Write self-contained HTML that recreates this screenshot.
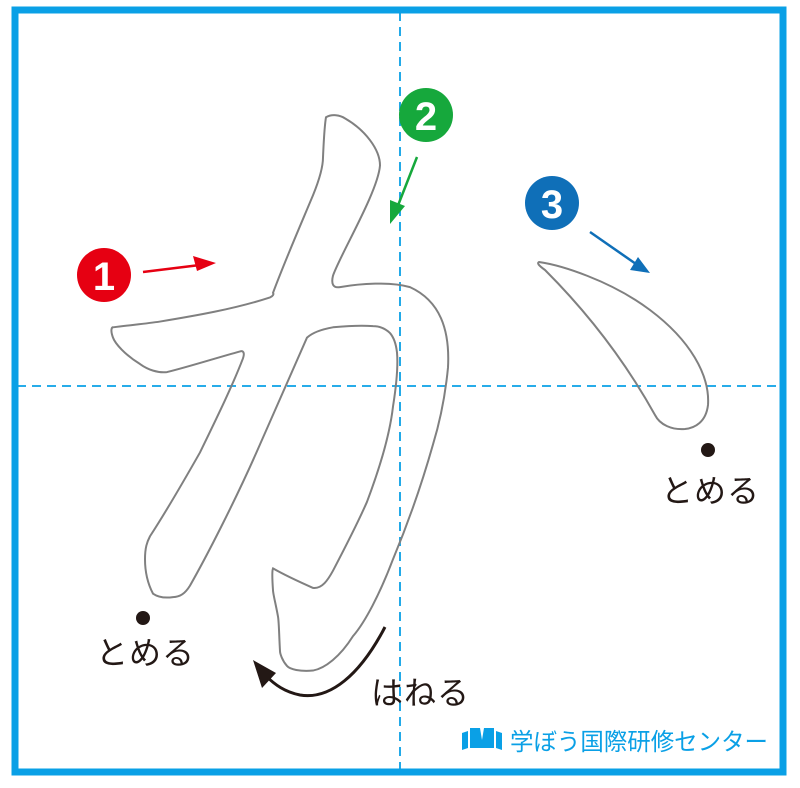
<!DOCTYPE html>
<html><head><meta charset="utf-8"><style>
body{margin:0;background:#fff;width:800px;height:788px;overflow:hidden}
svg{display:block}
text{font-family:"Liberation Sans","Noto Sans CJK JP",sans-serif}
</style></head><body>
<svg width="800" height="788" viewBox="0 0 800 788">
<rect x="0" y="0" width="800" height="788" fill="#fff"/>
<rect x="15" y="10" width="768" height="762" fill="none" stroke="#0aa0e6" stroke-width="7"/>
<line x1="400" y1="12" x2="400" y2="770" stroke="#0aa0e6" stroke-width="1.8" stroke-dasharray="9,6"/>
<line x1="17" y1="386" x2="781" y2="386" stroke="#0aa0e6" stroke-width="1.8" stroke-dasharray="9,6"/>
<path transform="matrix(1,0,0,1.148,0,-14.8)" vector-effect="non-scaling-stroke" d="M326,115 C332,112 340,113 345,116 C365,126 380,143 380,157 C378,180 340,235 333,253 C331,260 333,264 340,263 C360,260 390,258 410,263 C440,275 450,300 448,333 C445,360 440,380 433,400 C420,440 405,475 393,500 C380,530 365,555 353,567 C340,585 325,595 313,597 C300,598 290,596 287,593 C282,588 280,582 280,580 C279,565 279,555 278,550 C276,540 273,530 273,527 C272,515 272,510 273,508 C285,514 300,520 313,525 C322,526 328,518 333,510 C345,490 357,470 367,450 C380,420 390,390 393,367 C397,345 398,330 397,320 C396,312 393,306 390,303 C384,298 378,297 373,297 C360,296 345,297 333,298 C320,300 312,303 307,307 C290,340 275,370 260,400 C235,450 205,500 190,523 C185,530 180,533 173,533 C165,534 158,533 153,530 C147,520 145,510 145,500 C145,490 147,485 150,480 C165,460 185,430 200,407 C215,380 232,350 243,325 C245,320 243,318 240,319 C215,325 190,332 167,337 C158,338 148,335 140,330 C125,322 115,312 113,307 C110,300 112,298 113,298 C130,296 145,295 160,293 C195,288 235,282 270,272 C273,271 274,269 273,268 C285,240 300,210 313,183 C320,168 323,158 323,150 C324,130 325,120 326,115 Z" fill="none" stroke="#808080" stroke-width="2"/>
<path d="M539,262 C560,265 610,280 650,310 C690,340 710,375 708,405 C706,422 695,428 685,429 C672,430 660,425 655,415 C630,370 595,320 545,270 C538,265 537,263 539,262 Z" fill="none" stroke="#808080" stroke-width="2"/>
<circle cx="104" cy="275" r="27" fill="#e60012"/>
<text x="104" y="290" font-size="40" font-weight="bold" fill="#fff" text-anchor="middle">1</text>
<circle cx="426" cy="115" r="27" fill="#16a83c"/>
<text x="426" y="130" font-size="40" font-weight="bold" fill="#fff" text-anchor="middle">2</text>
<circle cx="552" cy="203" r="27" fill="#0f6fb8"/>
<text x="552" y="218" font-size="40" font-weight="bold" fill="#fff" text-anchor="middle">3</text>
<line x1="143" y1="272" x2="200" y2="265" stroke="#e60012" stroke-width="2.5"/>
<polygon points="216,263 193,256 197,271" fill="#e60012"/>
<line x1="417" y1="157" x2="397" y2="208" stroke="#16a83c" stroke-width="2.5"/>
<polygon points="390,224 390,200 405,206" fill="#16a83c"/>
<line x1="590" y1="232" x2="636" y2="264" stroke="#0f6fb8" stroke-width="2.5"/>
<polygon points="650,273 630,270 638,257" fill="#0f6fb8"/>
<path d="M385,627 C360,675 330,700 300,695 C285,692 275,685 265,675" fill="none" stroke="#231815" stroke-width="3"/>
<polygon points="253,660 262,688 276,673" fill="#231815"/>
<circle cx="143" cy="618" r="7" fill="#231815"/>
<circle cx="708" cy="450" r="7" fill="#231815"/>
<text x="145" y="664" font-size="32" fill="#231815" text-anchor="middle" textLength="98">とめる</text>
<text x="710" y="502" font-size="32" fill="#231815" text-anchor="middle" textLength="98">とめる</text>
<text x="420" y="704" font-size="32" fill="#231815" text-anchor="middle" textLength="98">はねる</text>
<g fill="#0aa0e6">
<path d="M462,733 L468,731 L468,748 L462,750 Z"/>
<path d="M470,728 L480,728 L482,740 L484,728 L494,728 L494,748 L470,748 Z"/>
<path d="M496,731 L502,733 L502,750 L496,748 Z"/>
</g>
<text x="510" y="750" font-size="24" fill="#0aa0e6" textLength="258" lengthAdjust="spacingAndGlyphs">学ぼう国際研修センター</text>
</svg>
</body></html>
